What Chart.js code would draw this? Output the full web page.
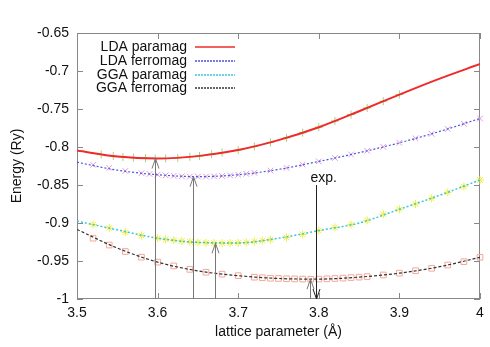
<!DOCTYPE html>
<html>
<head>
<meta charset="utf-8">
<script src="https://cdn.jsdelivr.net/npm/chart.js@4"></script>
<style>
  html, body { margin: 0; padding: 0; background: #fff; }
  #wrap { width: 490px; height: 347px; }
</style>
</head>
<body>
<div id="wrap"><canvas id="c" width="490" height="347"></canvas></div>
<script>
// ── data ──
const FONT = "'Liberation Sans', Arial, sans-serif";

const xTicks = [3.5, 3.6, 3.7, 3.8, 3.9, 4.0];
const yTicks = [-1, -0.95, -0.9, -0.85, -0.8, -0.75, -0.7, -0.65];

// fitted curves
const fitX     = [3.50, 3.55, 3.60, 3.65, 3.70, 3.75, 3.80, 3.85, 3.90, 3.95, 4.00];
const ldaPara  = [-0.8047, -0.8125, -0.8152, -0.8120, -0.8040, -0.7910, -0.7740, -0.7530, -0.7310, -0.7100, -0.6908];
const ldaFerro = [-0.8200, -0.8305, -0.8365, -0.8390, -0.8365, -0.8295, -0.8190, -0.8075, -0.7945, -0.7795, -0.7625];
const ggaPara  = [-0.8975, -0.9090, -0.9200, -0.9255, -0.9262, -0.9200, -0.9100, -0.9000, -0.8820, -0.8635, -0.8434];
const ggaFerro = [-0.9085, -0.9330, -0.9515, -0.9630, -0.9693, -0.9730, -0.9738, -0.9712, -0.9660, -0.9575, -0.9451];

// calculated points
const ldaParaPtX  = [3.53, 3.545, 3.557, 3.57, 3.585, 3.597, 3.61, 3.625, 3.64, 3.652, 3.667, 3.68, 3.70, 3.72, 3.74, 3.76, 3.78, 3.80, 3.82, 3.84, 3.86, 3.88, 3.90];
const ldaParaPtY  = [-0.8098, -0.8118, -0.8131, -0.8140, -0.8148, -0.8152, -0.8151, -0.8143, -0.8129, -0.8118, -0.8094, -0.8072, -0.8040, -0.7992, -0.7940, -0.7880, -0.7812, -0.7740, -0.7658, -0.7573, -0.7486, -0.7398, -0.7310];
const ldaFerroPtX = [3.52, 3.54, 3.56, 3.58, 3.59, 3.60, 3.61, 3.62, 3.63, 3.64, 3.65, 3.66, 3.67, 3.68, 3.69, 3.70, 3.71, 3.72, 3.74, 3.76, 3.78, 3.80, 3.82, 3.84, 3.86, 3.88, 3.90, 3.92, 3.94, 3.96, 3.98, 4.00];
const ldaFerroPtY = [-0.8235, -0.8275, -0.8315, -0.8345, -0.8355, -0.8365, -0.8373, -0.8380, -0.8385, -0.8389, -0.8390, -0.8389, -0.8386, -0.8381, -0.8374, -0.8365, -0.8353, -0.8340, -0.8310, -0.8275, -0.8232, -0.8190, -0.8145, -0.8098, -0.8050, -0.7998, -0.7945, -0.7886, -0.7827, -0.7763, -0.7695, -0.7625];
const ggaParaPtX  = [3.52, 3.54, 3.56, 3.58, 3.60, 3.61, 3.62, 3.63, 3.64, 3.65, 3.66, 3.67, 3.68, 3.69, 3.70, 3.71, 3.72, 3.73, 3.74, 3.76, 3.78, 3.80, 3.82, 3.84, 3.86, 3.88, 3.90, 3.92, 3.94, 3.96, 3.98, 4.00];
const ggaParaPtY  = [-0.9020, -0.9065, -0.9122, -0.9165, -0.9200, -0.9214, -0.9227, -0.9238, -0.9248, -0.9255, -0.9261, -0.9265, -0.9266, -0.9265, -0.9262, -0.9255, -0.9242, -0.9232, -0.9220, -0.9190, -0.9150, -0.9100, -0.9060, -0.9020, -0.8965, -0.8884, -0.8820, -0.8750, -0.8675, -0.8596, -0.8520, -0.8434];
const ggaFerroPtX = [3.52, 3.54, 3.56, 3.58, 3.60, 3.62, 3.64, 3.66, 3.68, 3.70, 3.72, 3.73, 3.74, 3.75, 3.76, 3.77, 3.78, 3.79, 3.80, 3.81, 3.82, 3.83, 3.84, 3.85, 3.86, 3.88, 3.90, 3.92, 3.94, 3.96, 3.98, 4.00];
const ggaFerroPtY = [-0.9200, -0.9290, -0.9375, -0.9450, -0.9515, -0.9565, -0.9610, -0.9648, -0.9673, -0.9693, -0.9713, -0.9720, -0.9727, -0.9730, -0.9733, -0.9736, -0.9738, -0.9739, -0.9738, -0.9735, -0.9730, -0.9725, -0.9718, -0.9712, -0.9705, -0.9684, -0.9660, -0.9628, -0.9596, -0.9553, -0.9509, -0.9451];

// equilibrium arrows (x, tip energy) and the experimental value
const minArrowX   = [3.597, 3.644, 3.671, 3.789];
const minArrowTip = [-0.8152, -0.8390, -0.9267, -0.9739];
const expX    = 3.797;
const expFrom = -0.850;
const expLabel = 'exp.';

const pts = (xs, ys) => xs.map((x, i) => ({ x, y: ys[i] }));

function fitSet(label, ys, color, dash, width) {
  return {
    label, data: pts(fitX, ys), showLine: true, borderColor: color, backgroundColor: color,
    borderDash: dash, borderWidth: width, pointRadius: 0, cubicInterpolationMode: 'monotone',
    order: 0, keyColor: color, keyDash: dash
  };
}
function pointSet(xs, ys, style, color, r) {
  return {
    label: '', data: pts(xs, ys), showLine: false, pointStyle: style, pointRadius: r,
    borderColor: color, backgroundColor: 'transparent', pointBorderWidth: 1, clip: false, order: 1
  };
}

// ── plugins ──
const frame = {
  id: 'frame',
  beforeDatasetsDraw(chart) {
    const { ctx, chartArea: { left, right, top, bottom }, scales: { x, y } } = chart;
    ctx.save();
    ctx.strokeStyle = '#888';
    ctx.lineWidth = 1;
    ctx.strokeRect(left + 0.5, top + 0.5, right - left - 1, bottom - top - 1);
    ctx.beginPath();
    xTicks.forEach(v => {
      const px = Math.round(x.getPixelForValue(v)) + 0.5;
      ctx.moveTo(px, bottom); ctx.lineTo(px, bottom - 6);
      ctx.moveTo(px, top); ctx.lineTo(px, top + 6);
    });
    yTicks.forEach(v => {
      const py = Math.round(y.getPixelForValue(v)) + 0.5;
      ctx.moveTo(left, py); ctx.lineTo(left + 6, py);
      ctx.moveTo(right, py); ctx.lineTo(right - 6, py);
    });
    ctx.stroke();
    ctx.restore();
  }
};

function arrow(ctx, px, y0, y1, color) {
  // line from y0 to y1, head at y1
  const dir = y1 < y0 ? 1 : -1;
  ctx.strokeStyle = color;
  ctx.lineWidth = 1;
  ctx.beginPath();
  ctx.moveTo(px, y0); ctx.lineTo(px, y1);
  ctx.moveTo(px - 3.5, y1 + dir * 10); ctx.lineTo(px, y1); ctx.lineTo(px + 3.5, y1 + dir * 10);
  ctx.stroke();
}

const arrows = {
  id: 'arrows',
  afterDatasetsDraw(chart) {
    const { ctx, scales: { x, y } } = chart;
    const base = y.getPixelForValue(-1);
    ctx.save();
    minArrowX.forEach((v, i) => {
      const px = Math.round(x.getPixelForValue(v)) + 0.5;
      arrow(ctx, px, base, y.getPixelForValue(minArrowTip[i]), '#777');
    });
    const ex = Math.round(x.getPixelForValue(expX)) + 0.5;
    arrow(ctx, ex, y.getPixelForValue(expFrom), base, '#222');
    ctx.fillStyle = '#111';
    ctx.font = '14px ' + FONT;
    ctx.textAlign = 'left';
    ctx.textBaseline = 'alphabetic';
    ctx.fillText(expLabel, ex - 6, y.getPixelForValue(expFrom) - 3);
    ctx.restore();
  }
};

const keyBox = {
  id: 'keyBox',
  afterDraw(chart) {
    const { ctx } = chart;
    const fits = chart.data.datasets.filter(d => d.keyColor);
    ctx.save();
    ctx.font = '14px ' + FONT;
    fits.forEach((d, i) => {
      const yy = Math.round(47 + i * 13.8);
      ctx.textAlign = 'right';
      ctx.textBaseline = 'middle';
      ctx.fillStyle = '#111';
      ctx.fillText(d.label, 187, yy + 0.5);
      ctx.strokeStyle = d.keyColor;
      ctx.lineWidth = 1.5;
      ctx.setLineDash(d.keyDash.length ? [2, 1] : []);
      ctx.beginPath();
      ctx.moveTo(195, yy); ctx.lineTo(235, yy);
      ctx.stroke();
    });
    ctx.restore();
  }
};

new Chart(document.getElementById('c'), {
  type: 'scatter',
  data: {
    datasets: [
      fitSet('LDA paramag', ldaPara, '#f02a2a', [], 2),
      fitSet('LDA ferromag', ldaFerro, '#4a55d8', [2, 2], 1.2),
      fitSet('GGA paramag', ggaPara, '#3fc4e0', [2, 2], 1.5),
      fitSet('GGA ferromag', ggaFerro, '#333', [3, 2], 1.2),
      pointSet(ldaParaPtX, ldaParaPtY, 'cross', '#a6d27a', 4),
      pointSet(ldaFerroPtX, ldaFerroPtY, 'crossRot', '#e09ae0', 4),
      pointSet(ggaParaPtX, ggaParaPtY, 'star', '#eeee40', 4),
      pointSet(ggaFerroPtX, ggaFerroPtY, 'rect', '#f4a898', 4)
    ]
  },
  options: {
    responsive: false,
    animation: false,
    layout: { padding: { top: 33, right: 10, left: 0, bottom: 0 } },
    plugins: { legend: { display: false }, tooltip: { enabled: false } },
    scales: {
      x: {
        type: 'linear', min: 3.5, max: 4.0,
        afterBuildTicks: s => { s.ticks = xTicks.map(v => ({ value: v })); },
        afterFit: s => { s.height = 48; },
        ticks: {
          padding: 6, color: '#111', font: { family: FONT, size: 14 },
          maxRotation: 0, callback: v => String(+v.toFixed(2))
        },
        grid: { display: false, drawTicks: false },
        border: { display: false },
        title: {
          display: true, text: 'lattice parameter (Å)', color: '#111',
          font: { family: FONT, size: 14 }, padding: { top: 0, bottom: 6 }
        }
      },
      y: {
        type: 'linear', min: -1, max: -0.65,
        afterBuildTicks: s => { s.ticks = yTicks.map(v => ({ value: v })); },
        afterFit: s => { s.width = 77; },
        ticks: {
          padding: 8, color: '#111', font: { family: FONT, size: 14 },
          callback: v => String(+v.toFixed(2))
        },
        grid: { display: false, drawTicks: false },
        border: { display: false },
        title: {
          display: true, text: 'Energy (Ry)', color: '#111',
          font: { family: FONT, size: 14 }, padding: { top: 9, bottom: 0 }
        }
      }
    }
  },
  plugins: [frame, arrows, keyBox]
});
</script>
</body>
</html>
